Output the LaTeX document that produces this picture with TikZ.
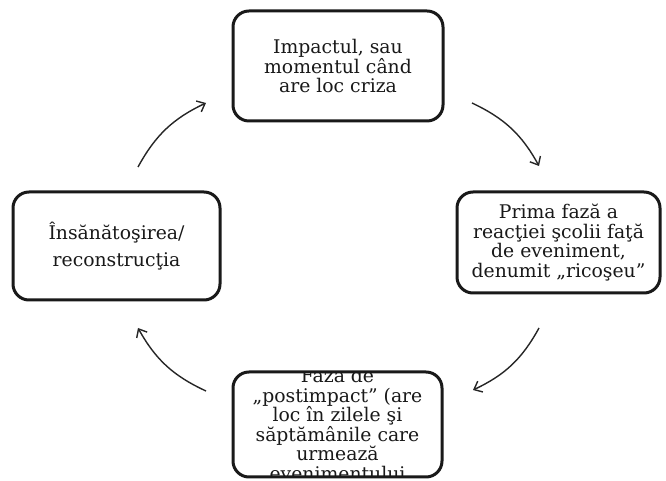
\documentclass[tikz,border=0pt]{standalone}
\usepackage{fontspec}
\setmainfont{DejaVu Serif}
\usetikzlibrary{arrows.meta}
\begin{document}
\begin{tikzpicture}[x=1pt,y=1pt,
  phase/.style={draw=black!90, line width=3pt, rounded corners=16pt, fill=white,
    align=center, text=black!90, inner sep=0pt,
    font=\fontsize{18.8}{19.8}\selectfont},
  flow/.style={draw=black!85, line width=1.4pt,
    -{Straight Barb[length=7pt,width=12pt,line width=1.4pt]}}
]
\useasboundingbox[fill=white] (0,0) rectangle (666,481);

% the four phases of a crisis
\node[phase, minimum width=210, minimum height=110] (impact) at (338,415)
  {Impactul, sau\\momentul când\\are loc criza};
\node[phase, minimum width=203, minimum height=101] (ricoseu) at (558.5,238.5)
  {Prima fază a\\reacţiei şcolii faţă\\de eveniment,\\denumit ,,ricoşeu''};
\node[phase, minimum width=209, minimum height=105] (post) at (337.5,56.5) {};
\node[phase, minimum width=207, minimum height=108] (recon) at (116.5,235)
  {Însănătoşirea/\\[7pt]reconstrucţia};

% the post-impact text runs past its frame and is cut by it
\begin{scope}
  \clip[rounded corners=16pt] ([shift={(1.5,1.5)}]post.south west)
    rectangle ([shift={(-1.5,-1.5)}]post.north east);
  \node[align=center, text=black!90, font=\fontsize{18.8}{19.6}\selectfont]
    (posttext) at (post.center)
    {Faza de\\,,postimpact'' (are\\loc în zilele şi\\săptămânile care\\urmează\\evenimentului};
\end{scope}

% arrow end points between the boxes
\coordinate (a1s) at (138,314);  \coordinate (a1e) at (206,378);
\coordinate (a2s) at (472,378);  \coordinate (a2e) at (539,315);
\coordinate (a3s) at (539,153);  \coordinate (a3e) at (473,91);
\coordinate (a4s) at (206,90);   \coordinate (a4e) at (138,153);

\draw[flow] (a1s) to[bend left=18] (a1e);
\draw[flow] (a2s) to[bend left=18] (a2e);
\draw[flow] (a3s) to[bend left=18] (a3e);
\draw[flow] (a4s) to[bend left=18] (a4e);
\end{tikzpicture}
\end{document}
